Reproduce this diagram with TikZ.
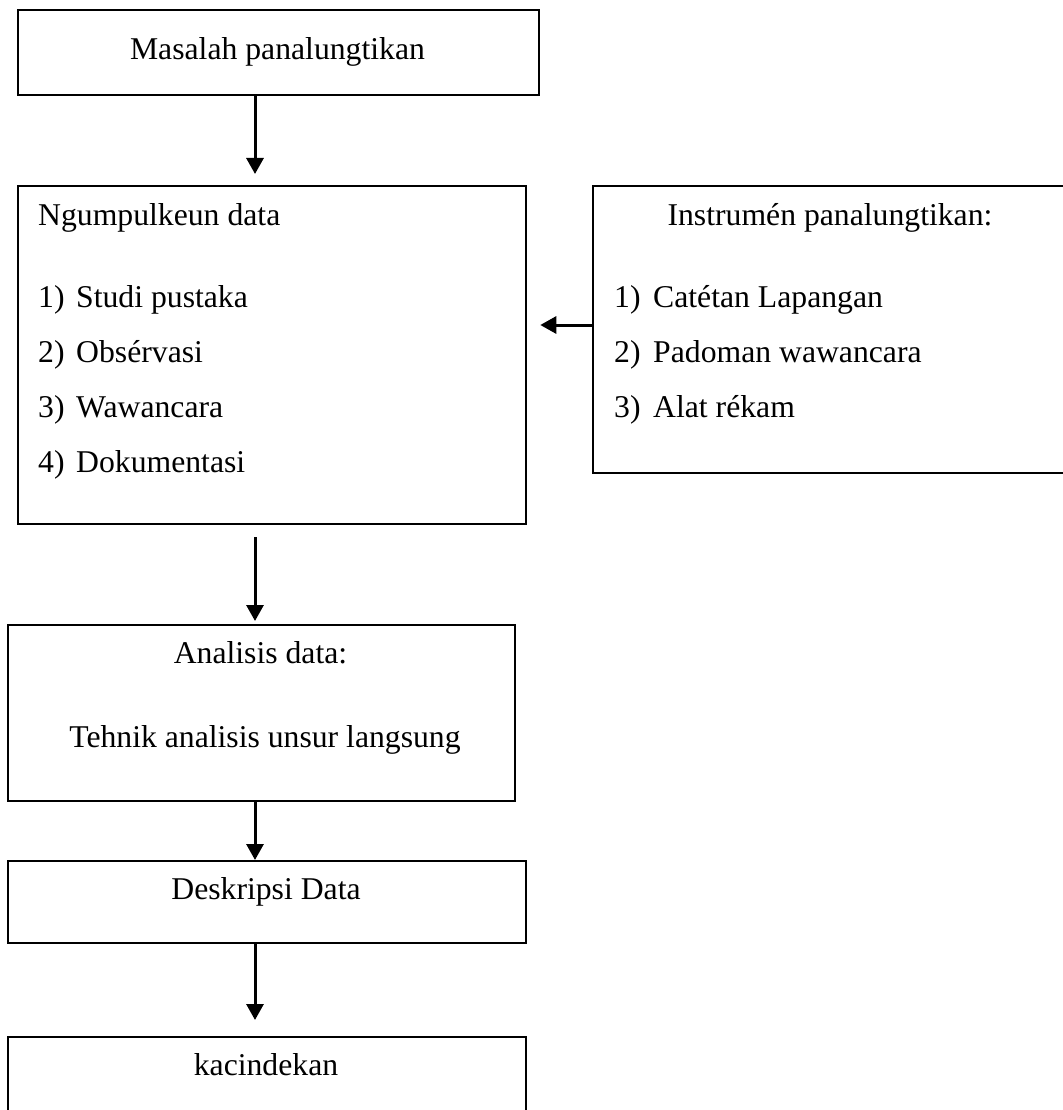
\documentclass[tikz,border=0pt]{standalone}
\usepackage{fontspec}
\setmainfont{Liberation Serif}
\usetikzlibrary{arrows.meta}
\begin{document}
\begin{tikzpicture}[x=1pt,y=-1pt,
  boxn/.style={draw=black,line width=2.3pt,rectangle,inner sep=0pt,anchor=north west},
  txt/.style={inner sep=0pt,anchor=base,font=\fontsize{31.7}{38}\selectfont},
  ltxt/.style={inner sep=0pt,anchor=base west,font=\fontsize{31.7}{38}\selectfont},
  arr/.style={line width=3pt,-{Triangle[length=16pt,width=17pt]}}]
\useasboundingbox[fill=white] (0,0) rectangle (1062,1110);
% boxes
\node[boxn,minimum width=521pt,minimum height=85pt] (b1) at (17,9) {};
\node[boxn,minimum width=508pt,minimum height=338pt] (b2) at (17,185) {};
\node[boxn,minimum width=476pt,minimum height=287pt] (b3) at (592,185) {};
\node[boxn,minimum width=507pt,minimum height=176pt] (b4) at (7,624) {};
\node[boxn,minimum width=518pt,minimum height=82pt] (b5) at (7,860) {};
\node[boxn,minimum width=518pt,minimum height=100pt] (b6) at (7,1036) {};
% texts
\node[txt] (t1) at (277.5,60) {Masalah panalungtikan};
\node[ltxt] (t2) at (38,225) {Ngumpulkeun data};
\node[ltxt] (n21) at (38,307) {1)};
\node[ltxt] (i21) at (76,307) {Studi pustaka};
\node[ltxt] (n22) at (38,362) {2)};
\node[ltxt] (i22) at (76,362) {Obsérvasi};
\node[ltxt] (n23) at (38,417) {3)};
\node[ltxt] (i23) at (76,417) {Wawancara};
\node[ltxt] (n24) at (38,472) {4)};
\node[ltxt] (i24) at (76,472) {Dokumentasi};
\node[txt] (t3) at (830,225) {Instrumén panalungtikan:};
\node[ltxt] (n31) at (614,307) {1)};
\node[ltxt] (i31) at (653,307) {Catétan Lapangan};
\node[ltxt] (n32) at (614,362) {2)};
\node[ltxt] (i32) at (653,362) {Padoman wawancara};
\node[ltxt] (n33) at (614,417) {3)};
\node[ltxt] (i33) at (653,417) {Alat rékam};
\node[txt] (t4a) at (260.5,663) {Analisis data:};
\node[txt] (t4b) at (265,747) {Tehnik analisis unsur langsung};
\node[txt] (t5) at (266,899) {Deskripsi Data};
\node[txt] (t6) at (266,1075) {kacindekan};
% connectors
\coordinate (ax) at (255,0);
\coordinate (ay) at (0,325);
\draw[arr,shorten >=11pt] (b1.south -| ax) -- (b2.north -| ax);
\draw[arr,shorten <=12pt,shorten >=3pt] (b2.south -| ax) -- (b4.north -| ax);
\draw[arr] (b4.south -| ax) -- (b5.north -| ax);
\draw[arr,shorten >=16pt] (b5.south -| ax) -- (b6.north -| ax);
\draw[arr,shorten >=13pt] (b3.west |- ay) -- (b2.east |- ay);
\end{tikzpicture}
\end{document}
